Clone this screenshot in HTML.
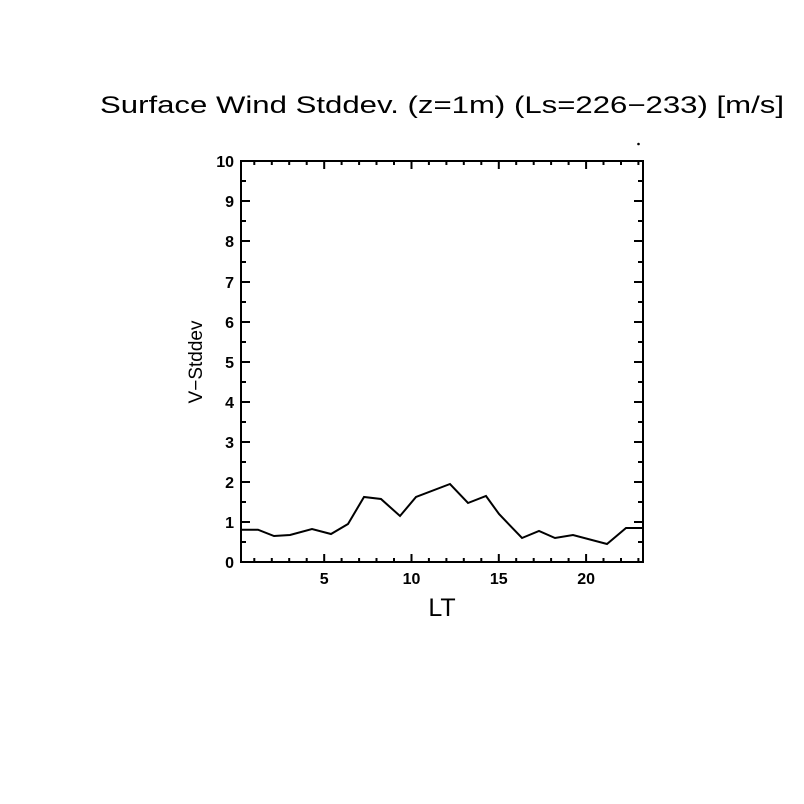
<!DOCTYPE html>
<html><head><meta charset="utf-8"><style>body{margin:0;background:#fff}svg{display:block}</style></head>
<body>
<svg width="804" height="804" viewBox="0 0 804 804" xmlns="http://www.w3.org/2000/svg" font-family="Liberation Sans, DejaVu Sans, sans-serif">
<rect width="804" height="804" fill="#fff"/>
<text x="100" y="113" font-size="24" textLength="684" lengthAdjust="spacingAndGlyphs">Surface Wind Stddev. (z=1m) (Ls=226−233) [m/s]</text>
<circle cx="638.5" cy="144" r="1.3" fill="#000"/>
<g stroke="#000" stroke-width="2" fill="none">
<rect x="241" y="161" width="402" height="401"/>
<path d="
M254.3,562v-4M271.8,562v-4M289.2,562v-4M306.7,562v-4M324.2,562v-8M341.6,562v-4M359.1,562v-4M376.5,562v-4M394,562v-4M411.5,562v-8M428.9,562v-4M446.4,562v-4M463.8,562v-4M481.3,562v-4M498.8,562v-8M516.2,562v-4M533.7,562v-4M551.1,562v-4M568.6,562v-4M586.1,562v-8M603.5,562v-4M621,562v-4M638.4,562v-4
M254.3,161v4M271.8,161v4M289.2,161v4M306.7,161v4M324.2,161v8M341.6,161v4M359.1,161v4M376.5,161v4M394,161v4M411.5,161v8M428.9,161v4M446.4,161v4M463.8,161v4M481.3,161v4M498.8,161v8M516.2,161v4M533.7,161v4M551.1,161v4M568.6,161v4M586.1,161v8M603.5,161v4M621,161v4M638.4,161v4"/>
<path d="
M241,542h5M241,522h9M241,502h5M241,482h9M241,462h5M241,442h9M241,422h5M241,402h9M241,382h5M241,362h9M241,342h5M241,322h9M241,302h5M241,282h9M241,262h5M241,241h9M241,221h5M241,201h9M241,181h5
M643,542h-5M643,522h-9M643,502h-5M643,482h-9M643,462h-5M643,442h-9M643,422h-5M643,402h-9M643,382h-5M643,362h-9M643,342h-5M643,322h-9M643,302h-5M643,282h-9M643,262h-5M643,241h-9M643,221h-5M643,201h-9M643,181h-5"/>
<polyline stroke-width="2" points="241,529.7 258,529.7 274,536 290,535 312,529 331,534 348,524 364,497 381,499 400,516 416,497 450,484 468,503 486,496 499,514 522,538 539,531 555,538 573,535 607,544 626,528 643,528"/>
</g>
<g font-size="16" font-weight="bold" text-anchor="end">
<text x="234" y="568">0</text><text x="234" y="528">1</text><text x="234" y="488">2</text><text x="234" y="448">3</text><text x="234" y="408">4</text><text x="234" y="368">5</text><text x="234" y="328">6</text><text x="234" y="288">7</text><text x="234" y="247">8</text><text x="234" y="207">9</text><text x="234" y="167">10</text>
</g>
<g font-size="16" font-weight="bold" text-anchor="middle">
<text x="324.2" y="584">5</text><text x="411.5" y="584">10</text><text x="498.8" y="584">15</text><text x="586.1" y="584">20</text>
</g>
<text x="442" y="616" font-size="25" text-anchor="middle">LT</text>
<text transform="translate(202,362) rotate(-90)" font-size="19" text-anchor="middle">V−Stddev</text>
</svg>
</body></html>
